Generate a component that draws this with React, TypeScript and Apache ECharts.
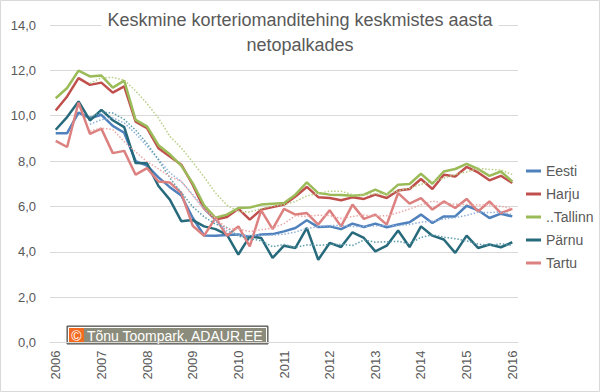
import { useEffect, useRef } from "react";
import * as echarts from "echarts";

const years = ["2006", "2007", "2008", "2009", "2010", "2011", "2012", "2013", "2014", "2015", "2016"];
const quarterNames = ["K1", "K2", "K3", "K4"];
const quarters: string[] = years.flatMap((y) => quarterNames.map((q) => `${y} ${q}`)).slice(0, 41);

const seriesNames = ["Eesti", "Harju", "..Tallinn", "Pärnu", "Tartu"];

const eesti = [
  9.23, 9.23, 10.14, 9.89, 10.04, 9.55, 9.25, 8.0, 7.8, 7.28, 6.85, 6.48, 5.5, 4.72, 4.71, 4.74, 4.76, 4.65, 4.76, 4.78,
  4.9, 5.05, 5.39, 5.09, 5.12, 5.0, 5.24, 5.09, 5.24, 5.08, 5.2, 5.3, 5.64, 5.27, 5.56, 5.56, 6.03, 5.83, 5.49, 5.68, 5.56,
];
const harju = [
  10.23, 10.85, 11.66, 11.36, 11.46, 11.02, 11.29, 9.74, 9.45, 8.57, 8.2, 7.84, 6.96, 5.9, 5.42, 5.53, 5.9, 5.42, 5.86, 5.97,
  6.08, 6.44, 6.86, 6.41, 6.37, 6.27, 6.4, 6.33, 6.52, 6.37, 6.7, 6.77, 7.21, 6.77, 7.4, 7.32, 7.74, 7.5, 7.15, 7.35, 7.03,
];
const tallinn = [
  10.77, 11.22, 11.99, 11.73, 11.77, 11.24, 11.55, 9.82, 9.53, 8.7, 8.3, 7.8, 7.03, 6.05, 5.5, 5.64, 5.93, 5.95, 6.08, 6.12,
  6.15, 6.52, 7.06, 6.59, 6.52, 6.5, 6.47, 6.52, 6.74, 6.52, 6.96, 6.99, 7.44, 7.0, 7.54, 7.65, 7.88, 7.65, 7.35, 7.54, 7.1,
];
const parnu = [
  9.38, 9.94, 10.63, 9.79, 10.26, 9.8, 9.5, 7.91, 7.9, 6.9, 6.3, 5.35, 5.4, 5.12, 5.0, 4.76, 3.88, 4.68, 4.61, 3.73,
  4.27, 4.17, 5.05, 3.65, 4.39, 4.21, 4.86, 4.61, 4.02, 4.27, 4.94, 4.21, 5.12, 4.71, 4.54, 3.95, 4.71, 4.17, 4.32, 4.2, 4.42,
];
const tartu = [
  8.89, 8.62, 10.58, 9.2, 9.43, 8.35, 8.45, 7.4, 7.69, 7.1, 7.05, 6.6, 5.15, 4.71, 5.49, 4.71, 5.12, 4.24, 5.83, 5.0,
  5.89, 5.64, 5.71, 5.2, 5.83, 5.12, 6.08, 5.45, 5.64, 5.2, 6.59, 6.12, 6.37, 5.86, 6.22, 5.93, 6.33, 5.78, 6.22, 5.71, 5.89,
];

const TREND_PERIOD = 4;

function movingAverage(values: number[], period: number): (number | null)[] {
  return values.map((_, i) => {
    if (i < period - 1) return null;
    let s = 0;
    for (let k = i - period + 1; k <= i; k++) s += values[k];
    return s / period;
  });
}

const FONT = "'Liberation Sans', Arial, sans-serif";
const TEXT = "#595959";

export default function App() {
  const ref = useRef<HTMLDivElement>(null);

  useEffect(() => {
    const chart = echarts.init(ref.current!, null, { renderer: "svg" });

    const mainColors = ["#4F81BD", "#C0504D", "#9BBB59", "#276A7C", "#DC8080"];
    const mainData = [eesti, harju, tallinn, parnu, tartu];

    const trends = [
      { data: eesti, color: "#8FB0DA" },
      { data: tallinn, color: "#B8CF86" },
      { data: parnu, color: "#5E9DAC" },
      { data: tartu, color: "#EBA8A8" },
    ];

    const trendSeries = trends.map((t) => ({
      type: "line",
      name: "trend",
      data: movingAverage(t.data, TREND_PERIOD),
      symbol: "none",
      silent: true,
      lineStyle: { color: t.color, width: 1.5, type: [1.5, 1.8] },
      z: 3,
    }));

    const mainSeries = seriesNames.map((name, i) => ({
      type: "line",
      name,
      data: mainData[i],
      symbol: "none",
      color: mainColors[i],
      lineStyle: { color: mainColors[i], width: 2.5 },
      z: 2,
    }));

    chart.setOption({
      animation: false,
      backgroundColor: "#fff",
      title: {
        text: "Keskmine korteriomanditehing keskmistes aasta\nnetopalkades",
        left: "center",
        top: 7,
        padding: [0, 6],
        backgroundColor: "#fff",
        textStyle: {
          fontFamily: FONT,
          fontSize: 18,
          fontWeight: "normal",
          color: TEXT,
          lineHeight: 25,
        },
      },
      legend: {
        data: seriesNames,
        orient: "vertical",
        left: 521,
        top: 158,
        itemWidth: 15,
        itemHeight: 3,
        itemGap: 7,
        icon: "rect",
        textStyle: { fontFamily: FONT, fontSize: 14, color: TEXT, lineHeight: 16 },
      },
      grid: { left: 50, right: 82, top: 25, bottom: 49.5 },
      xAxis: {
        type: "category",
        data: quarters,
        boundaryGap: true,
        axisTick: { show: false },
        axisLine: { lineStyle: { color: "#D9D9D9", width: 1 } },
        axisLabel: {
          interval: 3,
          rotate: 90,
          margin: 8,
          fontFamily: FONT,
          fontSize: 13,
          color: TEXT,
          formatter: (v: string) => v.slice(0, 4),
        },
        splitLine: { show: false },
      },
      yAxis: {
        type: "value",
        min: 0,
        max: 14,
        interval: 2,
        axisLine: { show: false },
        axisTick: { show: false },
        axisLabel: {
          margin: 14,
          fontFamily: FONT,
          fontSize: 13,
          color: TEXT,
          formatter: (v: number) => v.toFixed(1).replace(".", ","),
        },
        splitLine: { lineStyle: { color: "#D9D9D9", width: 1 } },
      },
      graphic: [
        {
          type: "rect",
          shape: { x: 0.5, y: 0.5, width: 599, height: 391 },
          style: { fill: "none", stroke: "#D9D9D9", lineWidth: 1 },
          silent: true,
        },
        {
          type: "group",
          left: 66,
          top: 325,
          z: 100,
          children: [
            {
              type: "rect",
              shape: { x: 0, y: 0, width: 201, height: 18 },
              style: { fill: "#8C8C7C", stroke: "#555555", lineWidth: 1 },
            },
            {
              type: "rect",
              shape: { x: 1.5, y: 1.5, width: 198, height: 15 },
              style: { fill: "none", stroke: "#FFFFFF", lineWidth: 1 },
            },
            {
              type: "rect",
              shape: { x: 2, y: 2, width: 15, height: 14 },
              style: { fill: "#F26B21" },
            },
            {
              type: "text",
              x: 9.5,
              y: 9.5,
              style: {
                text: "©",
                fill: "#fff",
                fontFamily: FONT,
                fontSize: 14,
                align: "center",
                verticalAlign: "middle",
              },
            },
            {
              type: "text",
              x: 20,
              y: 9.5,
              style: {
                text: "Tõnu Toompark, ADAUR.EE",
                fill: "#fff",
                fontFamily: FONT,
                fontSize: 14,
                align: "left",
                verticalAlign: "middle",
              },
            },
          ],
        },
      ],
      series: [...mainSeries, ...trendSeries],
    });

    return () => chart.dispose();
  }, []);

  return (
    <div
      ref={ref}
      style={{ position: "fixed", left: 0, top: 0, width: 600, height: 392, background: "#fff" }}
    />
  );
}
